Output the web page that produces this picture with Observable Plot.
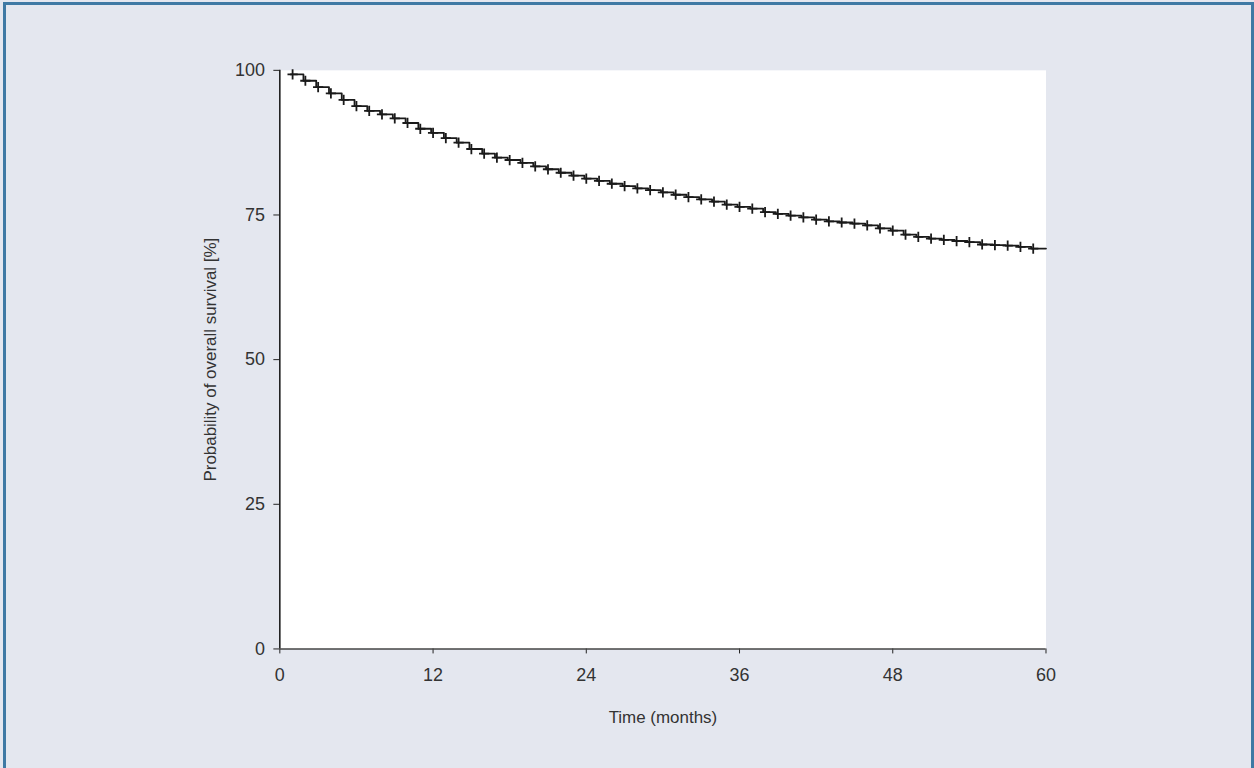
<!DOCTYPE html>
<html>
<head>
<meta charset="utf-8">
<script src="https://cdn.jsdelivr.net/npm/d3@7"></script>
<script src="https://cdn.jsdelivr.net/npm/@observablehq/plot@0.6"></script>
<style>
  html, body { margin: 0; padding: 0; background: #e4e7ef; }
  #page { position: absolute; left: 3px; top: 2px; width: 1251px; height: 790px; box-sizing: border-box;
          border: 3px solid #3f79a4; background: #e4e7ef; overflow: hidden; }
  #chart { position: absolute; left: -6px; top: -5px; }
  svg { font-family: "Liberation Sans", Arial, sans-serif; }
</style>
</head>
<body>
<div id="page"><div id="chart"></div></div>
<script>
// Kaplan–Meier overall survival (%), one step per month
const months = [1,2,3,4,5,6,7,8,9,10,11,12,13,14,15,16,17,18,19,20,21,22,23,24,25,26,27,28,29,30,
  31,32,33,34,35,36,37,38,39,40,41,42,43,44,45,46,47,48,49,50,51,52,53,54,55,56,57,58,59];
const survival = [99.3,98.2,97.1,96.0,94.9,93.8,93.0,92.4,91.7,90.9,89.9,89.2,88.3,87.5,86.4,85.6,84.9,84.5,84.0,83.4,
  82.9,82.3,81.8,81.3,80.9,80.4,80.0,79.6,79.3,78.9,78.5,78.1,77.7,77.3,76.8,76.4,76.1,75.5,75.2,74.9,
  74.6,74.2,73.9,73.7,73.5,73.2,72.7,72.3,71.6,71.2,70.9,70.7,70.5,70.3,69.9,69.8,69.7,69.5,69.2];
const followUpEnd = 60;
const xTicks = [0, 12, 24, 36, 48, 60];
const yTicks = [0, 25, 50, 75, 100];
const xLabel = "Time (months)";
const yLabel = "Probability of overall survival [%]";
const stepLead = 0.15; // drop occurs just before the censor mark

const censor = months.map((m, i) => ({t: m, s: survival[i]}));
const steps = months.map((m, i) => ({t: m - stepLead, s: survival[i]}));
steps.push({t: followUpEnd, s: survival[survival.length - 1]});

const chart = Plot.plot({
  width: 1254,
  height: 768,
  marginLeft: 280,
  marginRight: 206,
  marginTop: 70,
  marginBottom: 118,
  style: {background: "transparent", color: "#333"},
  x: {domain: [0, 60]},
  y: {domain: [0, 100]},
  marks: [
    Plot.frame({fill: "white", stroke: null}),
    Plot.axisY({ticks: yTicks, tickSize: 6, tickPadding: 9, stroke: "#222", fill: "#333", label: null, fontSize: 18}),
    Plot.axisX({ticks: xTicks, tickSize: 5, tickPadding: 14, stroke: "#222", fill: "#333", label: null, fontSize: 18}),
    Plot.text([yLabel], {frameAnchor: "left", dx: -69, rotate: -90, fontSize: 17, fill: "#333", textAnchor: "middle", lineAnchor: "middle"}),
    Plot.text([xLabel], {frameAnchor: "bottom", dy: 69, fontSize: 17, fill: "#333", textAnchor: "middle", lineAnchor: "middle"}),
    Plot.ruleX([0], {stroke: "#111", strokeWidth: 1.5}),
    Plot.ruleY([0], {stroke: "#444", strokeWidth: 1.5}),
    Plot.line(steps, {x: "t", y: "s", curve: "step-after", stroke: "#1a1a1a", strokeWidth: 1.8}),
    Plot.dot(censor, {x: "t", y: "s", symbol: "plus", r: 3.4, stroke: "#1a1a1a", strokeWidth: 1.8})
  ]
});
document.getElementById("chart").appendChild(chart);
</script>
</body>
</html>
